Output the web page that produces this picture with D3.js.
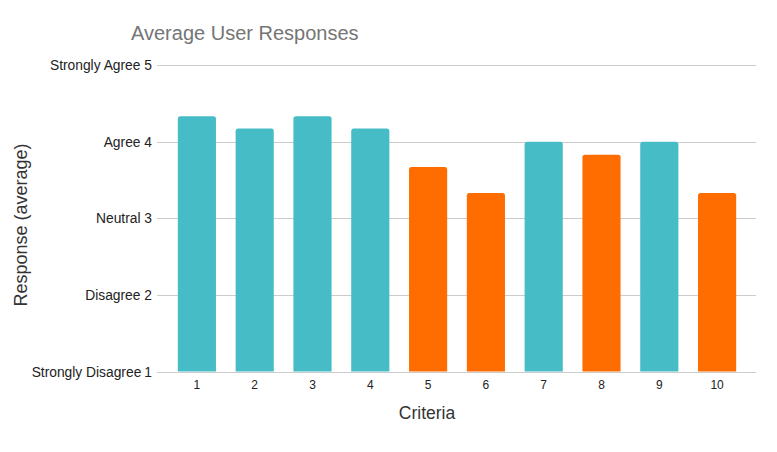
<!DOCTYPE html>
<html><head><meta charset="utf-8">
<script src="https://cdn.jsdelivr.net/npm/d3@7"></script>
<style>body{margin:0;background:#fff}svg{display:block;font-family:"Liberation Sans",Arial,sans-serif}</style>
</head><body>
<svg id="c" width="777" height="452"></svg>
<script>
const categories = ["1","2","3","4","5","6","7","8","9","10"];
const values = [4.33, 4.17, 4.33, 4.17, 3.67, 3.33, 4.0, 3.83, 4.0, 3.33];
const barColors = ["#46bdc6","#46bdc6","#46bdc6","#46bdc6","#ff6d01","#ff6d01","#46bdc6","#ff6d01","#46bdc6","#ff6d01"];
const yTicks = [1, 2, 3, 4, 5];
const yTickLabels = ["Strongly Disagree", "Disagree", "Neutral", "Agree", "Strongly Agree"];

const svg = d3.select("#c");
const x = d3.scaleBand().domain(categories).range([168, 746]).paddingInner(0.34).paddingOuter(0.17);
const y = d3.scaleLinear().domain([1, 5]).range([371.5, 65]);

// gridlines
svg.append("g").selectAll("line").data(yTicks).join("line")
  .attr("x1", 157).attr("x2", 756)
  .attr("y1", d => Math.round(y(d)) + 0.5).attr("y2", d => Math.round(y(d)) + 0.5)
  .attr("stroke", "#cccccc").attr("stroke-width", 1);

// y labels
const yl = svg.append("g").selectAll("text").data(yTicks).join("text")
  .attr("x", 152).attr("y", d => y(d) + 5)
  .attr("text-anchor", "end").attr("font-size", 13.8).attr("fill", "#222");
yl.append("tspan").text((d, i) => yTickLabels[i] + (d === 1 ? "" : " "));
yl.append("tspan").attr("dx", d => d === 1 ? 3 : 0).text(d => d);

// bars with rounded top
const r = 2.5;
svg.append("g").selectAll("path").data(values).join("path")
  .attr("fill", (d, i) => barColors[i])
  .attr("d", (d, i) => {
    const x0 = x(categories[i]), w = x.bandwidth(), t = y(d), b = y(1);
    return `M${x0},${b}V${t + r}Q${x0},${t} ${x0 + r},${t}H${x0 + w - r}Q${x0 + w},${t} ${x0 + w},${t + r}V${b}Z`;
  });

// baseline
svg.append("line").attr("x1", 157).attr("x2", 756).attr("y1", Math.round(y(1)) + 0.5).attr("y2", Math.round(y(1)) + 0.5)
  .attr("stroke", "#cccccc");

// x labels
svg.append("g").selectAll("text").data(categories).join("text")
  .attr("x", d => x(d) + x.bandwidth() / 2).attr("y", 388.5)
  .attr("text-anchor", "middle").attr("font-size", 12).attr("fill", "#222").text(d => d);

// titles
svg.append("text").attr("x", 131).attr("y", 40).attr("font-size", 20).attr("fill", "#757575").text("Average User Responses");
svg.append("text").attr("x", 427).attr("y", 419).attr("text-anchor", "middle").attr("font-size", 17.5).attr("fill", "#333").text("Criteria");
svg.append("text").attr("transform", "translate(27,225) rotate(-90)").attr("text-anchor", "middle")
  .attr("font-size", 18).attr("fill", "#333").text("Response (average)");
</script>
</body></html>
